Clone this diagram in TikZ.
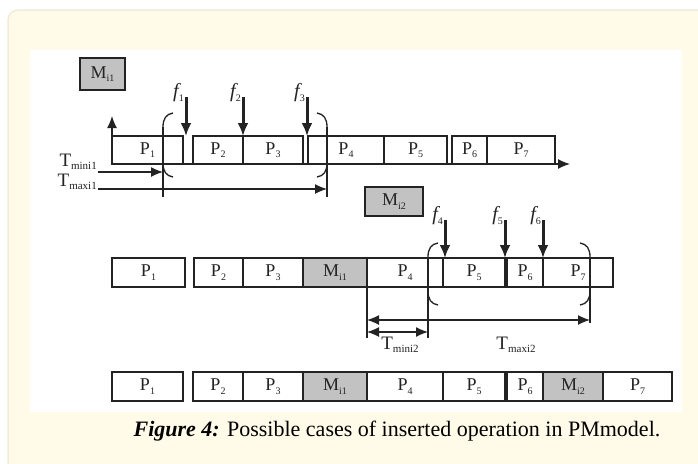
\documentclass[tikz,border=0pt]{standalone}
\usepackage{fontspec}
\setmainfont{Liberation Serif}
\usetikzlibrary{calc,arrows.meta,positioning}

\definecolor{cream}{RGB}{255,251,232}
\definecolor{creamedge}{RGB}{240,236,218}
\definecolor{mgray}{RGB}{194,194,194}
\definecolor{ink}{RGB}{35,35,35}

\newcommand\lowsub[2][10]{\raisebox{-3.5pt}{\fontsize{#1}{#1}\selectfont #2}}

\tikzset{
  job/.style={draw=ink, line width=1.2pt, anchor=north west, inner sep=0pt, outer sep=0pt,
    text=ink, font=\fontsize{18}{18}\selectfont},
  maint/.style={job, fill=mgray},
  fault/.style={draw=ink, line width=3pt, -{Latex[length=13pt,width=11pt]}},
  span/.style={draw=ink, line width=1.3pt},
  flab/.style={text=ink, font=\fontsize{20}{20}\selectfont\itshape, inner sep=0pt},
  tlab/.style={text=ink, font=\fontsize{19}{19}\selectfont, inner sep=0pt},
}

\begin{document}
\begin{tikzpicture}[x=1pt, y=-1pt, >={Latex[length=12pt,width=10pt]}]

% Frame
\useasboundingbox (0,0) rectangle (698,463);
\begin{scope}
  \clip (0,0) rectangle (698,463);
  \fill[white] (0,0) rectangle (698,463);
  \draw[creamedge, fill=cream, line width=1.5pt, rounded corners=10pt] (8,10) rectangle (720,490);
\end{scope}
\fill[white] (30,50) rectangle (682,412);

% Top row: schedule before insertion
\foreach \nm/\x/\w/\k in {t1/112/71/1, t2/193/50/2, t3/243/60/3, t4/308/76/4,
                          t5/384/63/5, t6/452/35/6, t7/487/68/7}
  \node[job, minimum width=\w pt, minimum height=28pt] (\nm) at (\x,136) {P\lowsub{\k}};

% Axes
\coordinate (o) at (t1.south west);
\coordinate (yend) at (112,116);
\coordinate (xend) at (570,164);
\draw[span, ->] (o) -- (yend);
\draw[span, ->] (o) -- (xend);

% Maintenance jobs
\node[maint, minimum width=45pt, minimum height=32pt] (mi1) at (80,58) {M\lowsub{i1}};
\node[maint, minimum width=58pt, minimum height=29pt] (mi2) at (365,187) {M\lowsub{i2}};

% Failure points, first machine
\coordinate (fe1) at ($(t1.north east)+(3,0)$);
\coordinate (fe2) at (t2.north east);
\coordinate (fe3) at ($(t4.north west)+(-1,0)$);
\foreach \k in {1,2,3} {
  \coordinate (fs\k) at ($(fe\k)+(0,-39)$);
  \draw[fault] (fs\k) -- (fe\k);
  \node[flab, anchor=east] (lf\k) at ($(fs\k)+(-2,-4)$) {f{\upshape\lowsub{\k}}};
}

% Window 1
\coordinate (lo1) at (163,197);
\coordinate (ro1) at (327,197);
\draw[span] (173,113) .. controls (166,114) and (163,119) .. (163,127)
  -- (163,163) .. controls (163,171) and (166,176) .. (173,177);
\draw[span] (317,113) .. controls (324,114) and (327,119) .. (327,127)
  -- (327,163) .. controls (327,171) and (324,176) .. (317,177);
\draw[span] (163,127) -- (lo1);
\draw[span] (327,127) -- (ro1);

\coordinate (tmin1) at (98,172);
\coordinate (tmax1) at (98,189);
\draw[span, ->] (tmin1) -- (tmin1 -| lo1);
\draw[span, ->] (tmax1) -- (tmax1 -| ro1);
\node[tlab, anchor=base east] (lmin1) at (97,166) {T\lowsub[11]{mini1}};
\node[tlab, anchor=base east] (lmax1) at (97,186) {T\lowsub[11]{maxi1}};

% Middle row: M_i1 inserted
\foreach \nm/\x/\w/\k in {m1/112/73/1, m2/194/49/2, m3/243/60/3, m4/367/76/4,
                          m5/443/62/5, m6/507/36/6, m7/543/70/7}
  \node[job, minimum width=\w pt, minimum height=29pt] (\nm) at (\x,258) {P\lowsub{\k}};
\node[maint, minimum width=64pt, minimum height=29pt] (mm1) at (303,258) {M\lowsub{i1}};

% Failure points, second case
\coordinate (fe4) at ($(m5.north west)+(2,0)$);
\coordinate (fe5) at (m5.north east);
\coordinate (fe6) at (m6.north east);
\foreach \k in {4,5,6} {
  \coordinate (fs\k) at ($(fe\k)+(0,-38)$);
  \draw[fault] (fs\k) -- (fe\k);
  \node[flab, anchor=east] (lf\k) at ($(fs\k)+(-2,-4)$) {f{\upshape\lowsub{\k}}};
}

% Window 2
\coordinate (lo2) at (428,338);
\coordinate (ro2) at (590,323);
\coordinate (st2) at (367,338);
\draw[span] (438,243) .. controls (431,244) and (428,249) .. (428,257)
  -- (428,291) .. controls (428,299) and (431,304) .. (438,305);
\draw[span] (580,243) .. controls (587,244) and (590,249) .. (590,257)
  -- (590,291) .. controls (590,299) and (587,304) .. (580,305);
\draw[span] (428,257) -- (lo2);
\draw[span] (590,257) -- (ro2);
\draw[span] (m4.south west) -- (st2);

\coordinate (tmax2) at (367,320);
\coordinate (tmin2) at (367,332);
\draw[span, <->] (tmax2) -- (tmax2 -| ro2);
\draw[span, <->] (tmin2) -- (tmin2 -| lo2);
\node[tlab] (lmin2) at (400,345) {T\lowsub[11]{mini2}};
\node[tlab] (lmax2) at (516,345) {T\lowsub[11]{maxi2}};

% Bottom row: both maintenance jobs inserted
\foreach \nm/\x/\w/\k in {b1/112/71/1, b2/193/50/2, b3/243/60/3, b4/367/76/4,
                          b5/443/62/5, b6/507/36/6, b7/603/69/7}
  \node[job, minimum width=\w pt, minimum height=29pt] (\nm) at (\x,372) {P\lowsub{\k}};
\node[maint, minimum width=64pt, minimum height=29pt] (bm1) at (303,372) {M\lowsub{i1}};
\node[maint, minimum width=60pt, minimum height=29pt] (bm2) at (543,372) {M\lowsub{i2}};

% Caption
\node[font=\fontsize{22}{22}\selectfont, inner sep=0pt] (cap) at (397,431)
  {\textbf{\textit{Figure 4:}} Possible cases of inserted operation in PMmodel.};

\end{tikzpicture}
\end{document}
